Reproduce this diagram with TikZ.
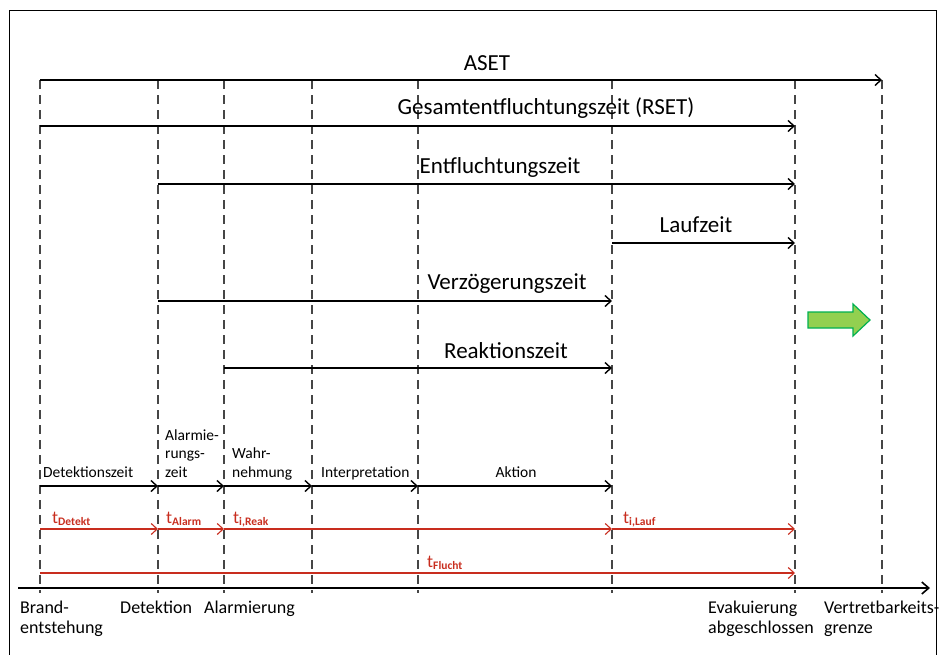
\documentclass[tikz,border=0pt]{standalone}
\usepackage{fontspec}
\setmainfont{Carlito}
\usetikzlibrary{arrows.meta}
\definecolor{tred}{RGB}{200,45,30}
\definecolor{gfill}{RGB}{146,208,80}
\definecolor{gline}{RGB}{0,176,80}
\definecolor{dgrey}{RGB}{70,70,70}
\tikzset{
  vline/.style={dgrey, line width=1.6pt, dash pattern=on 9pt off 6pt},
  arr/.style={black, line width=1.4pt, -{Straight Barb[length=6pt,width=11pt,line width=1.4pt]}},
  rarr/.style={tred, line width=1.1pt, -{Straight Barb[length=6pt,width=11pt,line width=1.1pt]}},
  big/.style={font=\fontsize{23}{25}\selectfont, inner sep=0pt},
  small/.style={font=\fontsize{15.5}{18.5}\selectfont, inner sep=0pt, align=left},
  bot/.style={font=\fontsize{18}{20}\selectfont, inner sep=0pt, align=left},
  rlab/.style={tred, font=\fontsize{18}{20}\selectfont, inner sep=0pt},
}
\newcommand{\rsub}[1]{t\textsubscript{\fontsize{11.5}{12}\selectfont\bfseries #1}}
\begin{document}
\begin{tikzpicture}[x=1pt,y=-1pt]
\useasboundingbox (0,0) rectangle (942,654);
% frame
\draw[line width=0.9pt] (9,660) -- (9,10) -- (936,10) -- (936,660);
% coordinates
\foreach \n/\x in {a/40,b/158,c/224,d/312,e/418,f/612,g/795,h/882}{
  \foreach \r/\y in {top/80,rset/126,ent/184,lauf/243,verz/301,reak/368,row/486,red/529,flu/573,bot/593}{
    \coordinate (\r\n) at (\x,\y);
  }
}
\coordinate (axs) at (18,588);
\coordinate (axe) at (930,588);
% dashed vertical lines
\foreach \n in {a,b,c,d,e,f,g,h}{ \draw[vline] (top\n) -- (bot\n); }
% axis
\draw[line width=1.6pt, -{Straight Barb[length=7pt,width=12pt,line width=1.6pt]}] (axs) -- (axe);
% top arrows
\draw[arr] (topa) -- (toph);
\draw[arr] (rseta) -- (rsetg);
\draw[arr] (entb) -- (entg);
\draw[arr] (lauff) -- (laufg);
\draw[arr] (verzb) -- (verzf);
\draw[arr] (reakc) -- (reakf);
\node[big] (aset) at (487,63) {ASET};
\node[big] (rsetl) at (546,108) {Gesamtentfluchtungszeit (RSET)};
\node[big] (entl) at (500,167) {Entfluchtungszeit};
\node[big] (laufl) at (696,225) {Laufzeit};
\node[big] (verzl) at (507,284) {Verzögerungszeit};
\node[big] (reakl) at (506,351) {Reaktionszeit};
% green arrow
\draw[gline, fill=gfill, line width=1.2pt] (808,312) -- (853,312) -- (853,304) -- (870,320) -- (853,336) -- (853,328) -- (808,328) -- cycle;
% row of phases
\draw[arr] (rowa) -- (rowb);
\draw[arr] (rowb) -- (rowc);
\draw[arr] (rowc) -- (rowd);
\draw[arr] (rowd) -- (rowe);
\draw[arr] (rowe) -- (rowf);
\node[small, anchor=base west] (detz) at (43,477) {Detektionszeit};
\node[small, anchor=base west] (alz) at (165,477) {Alarmie-\\rungs-\\zeit};
\node[small, anchor=base west] (wahr) at (232,477) {Wahr-\\nehmung};
\node[small, anchor=base west] (interp) at (321,477) {Interpretation};
\node[small, anchor=base] (akt) at (516,477) {Aktion};
% red row
\draw[rarr] (reda) -- (redb);
\draw[rarr] (redb) -- (redc);
\draw[rarr] (redc) -- (redf);
\draw[rarr] (redf) -- (redg);
\draw[rarr] (flua) -- (flug);
\node[rlab, anchor=base west] (td) at (52,523) {\rsub{Detekt}};
\node[rlab, anchor=base west] (ta) at (166,523) {\rsub{Alarm}};
\node[rlab, anchor=base west] (tr) at (233,523) {\rsub{i,Reak}};
\node[rlab, anchor=base west] (tl) at (623,523) {\rsub{i,Lauf}};
\node[rlab, anchor=base west] (tf) at (427,567) {\rsub{Flucht}};
% bottom labels
\node[bot, anchor=base west] (brand) at (20,633) {Brand-\\entstehung};
\node[bot, anchor=base west] (det) at (120,613) {Detektion};
\node[bot, anchor=base west] (alm) at (204,613) {Alarmierung};
\node[bot, anchor=base west] (evak) at (708,633) {Evakuierung\\abgeschlossen};
\node[bot, anchor=base west] (vert) at (824,633) {Vertretbarkeits-\\grenze};
\end{tikzpicture}
\end{document}
